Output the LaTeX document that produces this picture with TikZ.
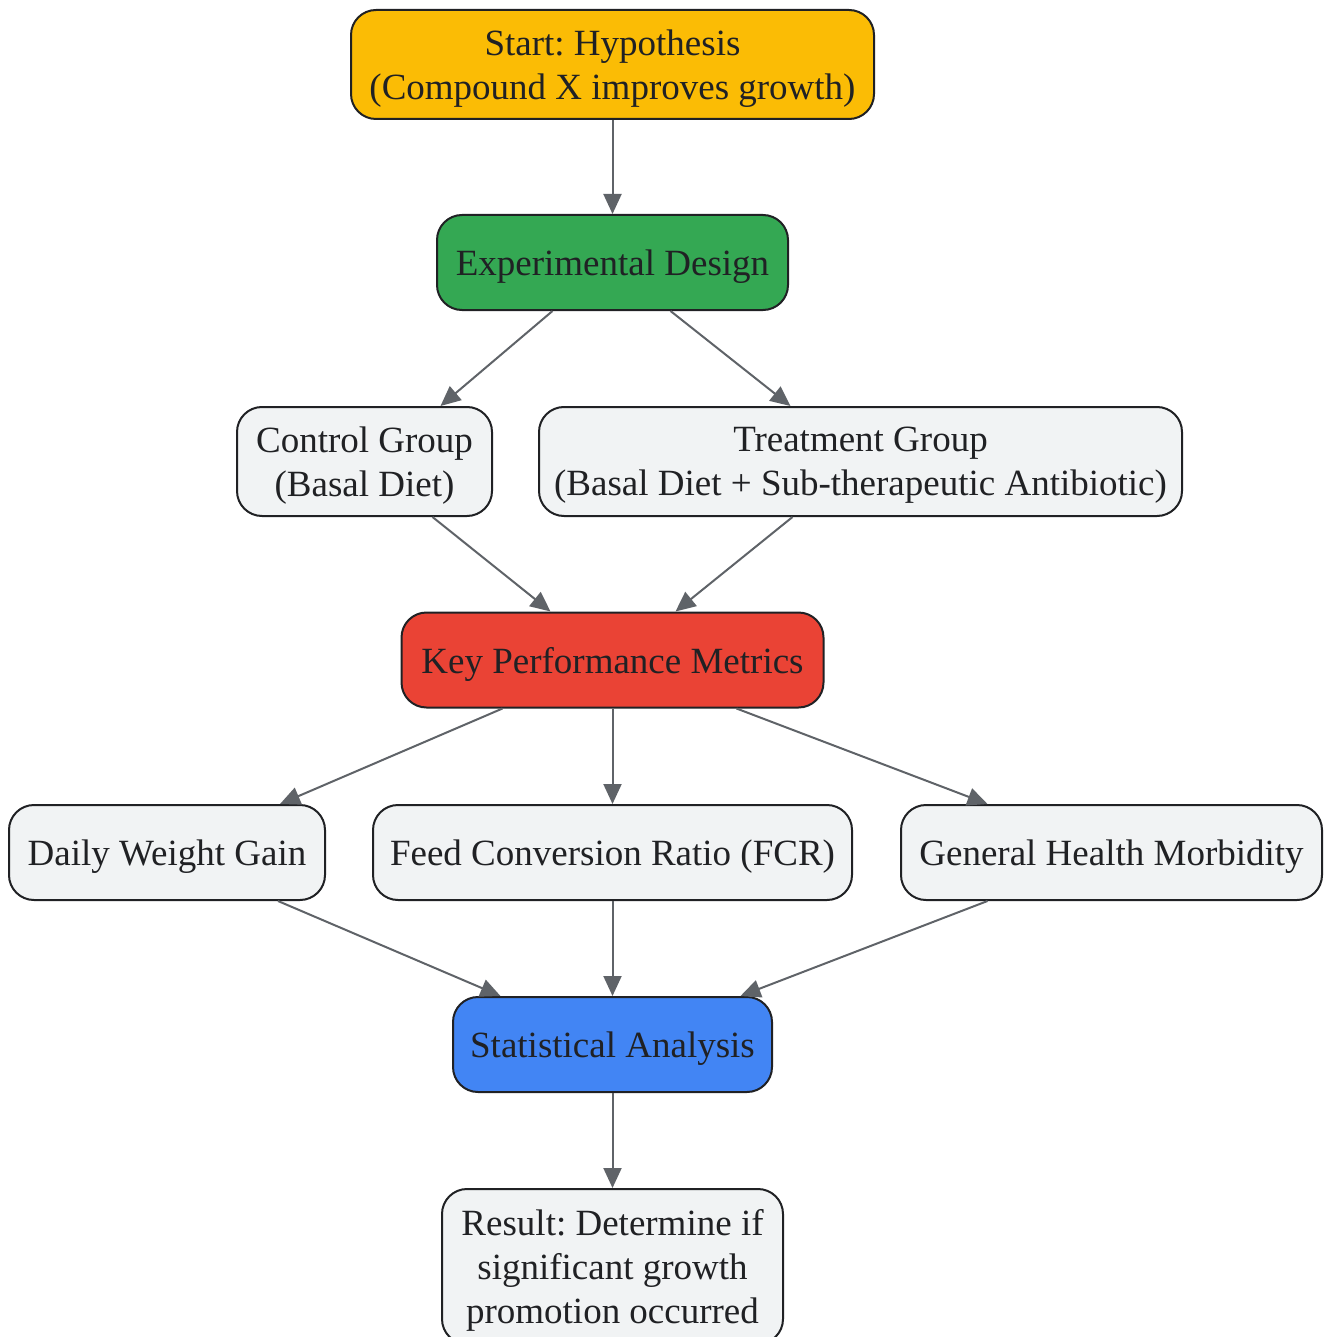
\documentclass[tikz,border=0pt]{standalone}
\usepackage{fontspec}
\setmainfont{Liberation Serif}
\usetikzlibrary{arrows.meta,calc}
\definecolor{startyellow}{HTML}{FBBC05}
\definecolor{designgreen}{HTML}{34A853}
\definecolor{metricred}{HTML}{EA4335}
\definecolor{statblue}{HTML}{4285F4}
\definecolor{boxgray}{HTML}{F1F3F4}
\definecolor{edgegray}{HTML}{5F6368}
\definecolor{inkdark}{HTML}{202124}
\frenchspacing
\begin{document}
\begin{tikzpicture}[x=1pt, y=-1pt,
    stepbox/.style={draw=inkdark, line width=2pt, rounded corners=25pt, fill=boxgray,
        text=inkdark, align=center, inner sep=0pt, minimum height=95pt, text depth=0pt,
        font=\fontsize{37}{44}\selectfont},
    flow/.style={draw=edgegray, line width=2pt, -{Triangle[length=20pt,width=18pt]}}]
    \useasboundingbox (0,0) rectangle (1323,1337);
    \node[stepbox, fill=startyellow, minimum width=523pt, minimum height=109pt] (start) at (612.5,64.5)
        {Start: Hypothesis\\(Compound X improves growth)};
    \node[stepbox, fill=designgreen, minimum width=351pt] (design) at (612.5,262.5) {Experimental Design};
    \node[stepbox, minimum width=255pt, minimum height=109pt] (control) at (364.5,461.5)
        {Control Group\\(Basal Diet)};
    \node[stepbox, minimum width=643pt, minimum height=109pt] (treatment) at (860.5,461.5)
        {Treatment Group\\(Basal Diet + Sub-therapeutic Antibiotic)};
    \node[stepbox, fill=metricred, minimum width=422pt] (metrics) at (612.5,660) {Key Performance Metrics};
    \node[stepbox, minimum width=316pt] (weight) at (167,852.5) {Daily Weight Gain};
    \node[stepbox, minimum width=479pt] (fcr) at (612.5,852.5) {Feed Conversion Ratio (FCR)};
    \node[stepbox, minimum width=421pt] (health) at (1111.5,852.5) {General Health Morbidity};
    \node[stepbox, fill=statblue, minimum width=319pt] (stats) at (612.5,1044.5) {Statistical Analysis};
    \node[stepbox, minimum width=341pt, minimum height=155pt] (result) at (612.5,1266.5)
        {Result: Determine if\\significant growth\\promotion occurred};
    \draw[flow] (start) -- (design);
    \foreach \a/\da/\b/\db in {design/-60/control/76, design/58/treatment/-70,
                              control/68/metrics/-62, treatment/-68/metrics/63,
                              metrics/-110/weight/113, metrics/0/fcr/0, metrics/124/health/-124,
                              weight/111/stats/-112, fcr/0/stats/0, health/-124/stats/128,
                              stats/0/result/0}
        \draw[flow] ($(\a.south)+(\da,0)$) -- ($(\b.north)+(\db,0)$);
\end{tikzpicture}
\end{document}
